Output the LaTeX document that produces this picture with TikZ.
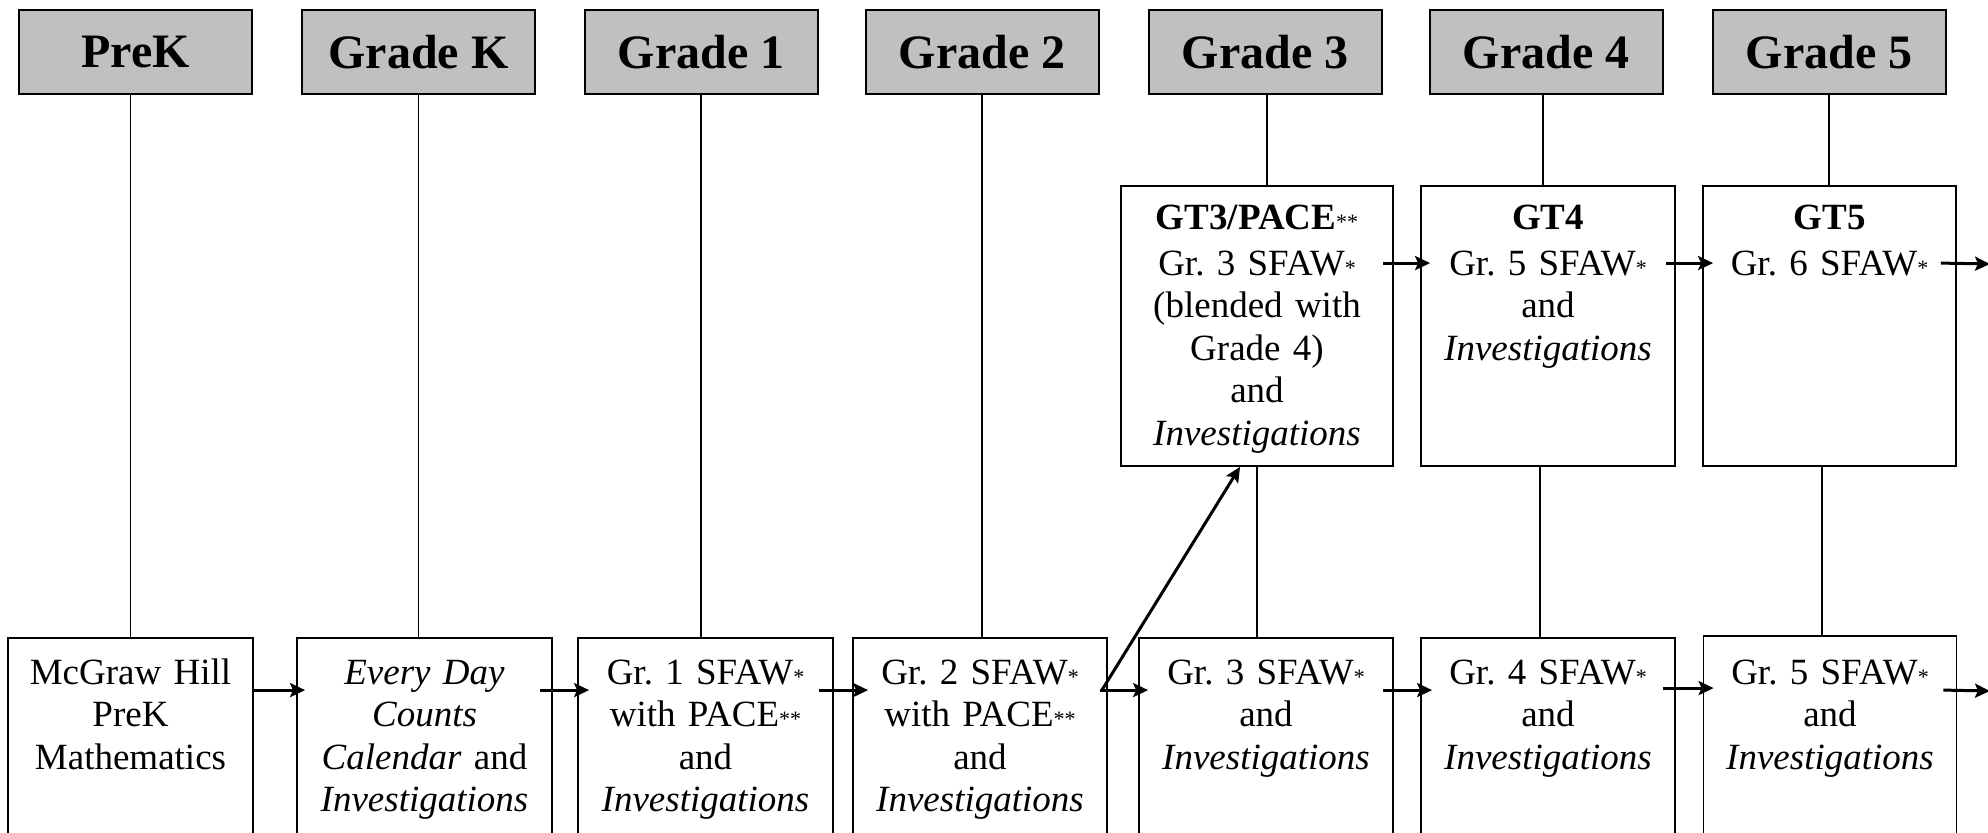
\documentclass[tikz,border=0pt]{standalone}
\usepackage{fontspec}
\setmainfont{Liberation Serif}
\usetikzlibrary{arrows.meta,calc}
\definecolor{hdrgray}{HTML}{C0C0C0}
\newcommand{\smast}{{\fontsize{11pt}{11pt}\selectfont *}}
\begin{document}
\frenchspacing
\begin{tikzpicture}[x=0.5pt,y=-0.5pt,
  hdr/.style={draw, line width=1pt, fill=hdrgray, minimum width=116.5pt, minimum height=42pt, inner sep=0pt, font=\fontsize{24pt}{28pt}\selectfont\bfseries},
  box/.style={draw, line width=0.9pt, inner sep=0pt, minimum height=135pt},
  gbox/.style={draw, line width=0.9pt, inner sep=0pt, minimum height=140pt},
  txt/.style={text width=125pt, align=center, inner sep=0pt, anchor=base, font=\fontsize{18.5pt}{21.25pt}\selectfont},
  conn/.style={line width=0.9pt},
  arr/.style={line width=1.5pt, -{Stealth[length=7.5pt,width=7pt,inset=1.5pt]}}]
\clip (0,0) rectangle (1988,833);
% headers
\node[hdr] (h0) at (135.5,52) {PreK};
\node[hdr] (h1) at (418.5,52) {Grade K};
\node[hdr] (h2) at (701,52) {Grade 1};
\node[hdr] (h3) at (982,52) {Grade 2};
\node[hdr] (h4) at (1265,52) {Grade 3};
\node[hdr] (h5) at (1546,52) {Grade 4};
\node[hdr] (h6) at (1829,52) {Grade 5};
% bottom boxes
\node[box, minimum width=122.5pt] (b1) at (130.5,773) {};
\node[box, minimum width=127.5pt] (b2) at (424.5,773) {};
\node[box, minimum width=127.5pt] (b3) at (705.5,773) {};
\node[box, minimum width=127pt] (b4) at (980,773) {};
\node[box, minimum width=127pt] (b5) at (1266,773) {};
\node[box, minimum width=127pt] (b6) at (1548,773) {};
\node[box, minimum width=126.5pt] (b7) at (1830,771) {};
% GT boxes
\node[gbox, minimum width=136pt] (g3) at (1257,326) {};
\node[gbox, minimum width=127pt] (g4) at (1548,326) {};
\node[gbox, minimum width=126.5pt] (g5) at (1829.5,326) {};
% texts
\node[txt] (t1) at ($(b1.north)+(0,47)$) {McGraw Hill\\PreK\\Mathematics};
\node[txt] (t2) at ($(b2.north)+(0,47)$) {\textit{Every Day}\\\textit{Counts}\\\textit{Calendar} and\\\textit{Investigations}};
\node[txt] (t3) at ($(b3.north)+(0,47)$) {Gr. 1 SFAW\smast\\with PACE\smast\smast\\and\\\textit{Investigations}};
\node[txt] (t4) at ($(b4.north)+(0,47)$) {Gr. 2 SFAW\smast\\with PACE\smast\smast\\and\\\textit{Investigations}};
\node[txt] (t5) at ($(b5.north)+(0,47)$) {Gr. 3 SFAW\smast\\and\\\textit{Investigations}};
\node[txt] (t6) at ($(b6.north)+(0,47)$) {Gr. 4 SFAW\smast\\and\\\textit{Investigations}};
\node[txt] (t7) at ($(b7.north)+(0,49)$) {Gr. 5 SFAW\smast\\and\\\textit{Investigations}};
\node[txt] (u3) at ($(g3.north)+(0,44)$) {\textbf{GT3/PACE}\smast\smast\\[1.75pt]Gr. 3 SFAW\smast\\(blended with\\Grade 4)\\and\\\textit{Investigations}};
\node[txt] (u4) at ($(g4.north)+(0,44)$) {\textbf{GT4}\\[1.75pt]Gr. 5 SFAW\smast\\and\\\textit{Investigations}};
\node[txt] (u5) at ($(g5.north)+(0,44)$) {\textbf{GT5}\\[1.75pt]Gr. 6 SFAW\smast};
% connector anchor points
\coordinate (c4) at ($(h4.south)+(2,0)$);
\coordinate (c5) at ($(h5.south)+(-3,0)$);
\coordinate (d4) at ($(g4.south)+(-8,0)$);
\coordinate (d5) at ($(g5.south)+(-7.5,0)$);
% vertical connectors
\draw[conn] (b1.north) -- (b1.north |- h0.south);
\draw[conn] (h1.south) -- (h1.south |- b2.north);
\draw[conn] (h2.south) -- (h2.south |- b3.north);
\draw[conn] (h3.south) -- (h3.south |- b4.north);
\draw[conn] (c4) -- (c4 |- g3.north);
\draw[conn] (g3.south) -- (g3.south |- b5.north);
\draw[conn] (c5) -- (c5 |- g4.north);
\draw[conn] (d4) -- (d4 |- b6.north);
\draw[conn] (h6.south) -- (h6.south |- g5.north);
\draw[conn] (d5) -- (d5 |- b7.north);
% arrows bottom row
\coordinate (endb) at (1990,691);
\coordinate (endg) at (1990,264);
\draw[arr] ($(b1.north east)+(0,53)$) -- ($(b2.north west)+(9,53)$);
\draw[arr] ($(b2.north east)+(-13,53)$) -- ($(b3.north west)+(12,53)$);
\draw[arr] ($(b3.north east)+(-15,53)$) -- ($(b4.north west)+(16,53)$);
\draw[arr] ($(b4.north east)+(-8,53)$) -- ($(b5.north west)+(10,53)$);
\draw[arr] ($(b5.north east)+(-11,53)$) -- ($(b6.north west)+(12,53)$);
\draw[arr] ($(b6.north east)+(-13,51)$) -- ($(b7.north west)+(11,53)$);
\draw[arr] ($(b7.north east)+(-14,55)$) -- (endb);
% diagonal
\draw[arr] ($(b4.north east)+(-6,53)$) -- ($(g3.south)+(-17,0)$);
% arrows top row
\draw[arr] ($(g3.north east)+(-11,78)$) -- ($(g4.north west)+(10,78)$);
\draw[arr] ($(g4.north east)+(-10,78)$) -- ($(g5.north west)+(11,78)$);
\draw[arr] ($(g5.north east)+(-16,78)$) -- (endg);
\end{tikzpicture}
\end{document}
